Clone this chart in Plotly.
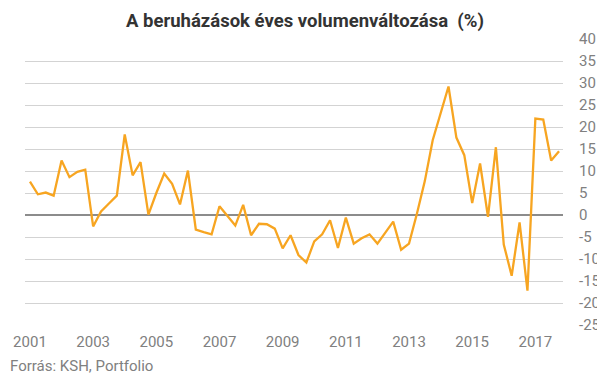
import plotly.graph_objects as go

years = list(range(2001, 2018))
quarters = [f"{y} Q{q}" for y in years for q in range(1, 5)]
values = [
    7.6, 4.7, 5.1, 4.4, 12.4, 8.6, 9.8, 10.3,
    -2.6, 0.8, 2.6, 4.4, 18.3, 9.0, 12.0, 0.1,
    5.0, 9.4, 7.1, 2.4, 10.1, -3.3, -3.9, -4.4,
    2.0, -0.2, -2.4, 2.3, -4.6, -2.0, -2.1, -3.1,
    -7.6, -4.6, -9.1, -10.8, -6.0, -4.4, -1.2, -7.5,
    -0.6, -6.5, -5.3, -4.4, -6.5, -4.0, -1.5, -7.9,
    -6.5, 0.3, 7.7, 17.0, 23.2, 29.2, 17.6, 13.6,
    2.7, 11.7, -0.4, 15.4, -6.7, -13.8, -1.7, -17.2,
    21.9, 21.7, 12.4, 14.5,
]
tick_years = [str(y) for y in years if y % 2 == 1]
tick_cats = [f"{y} Q1" for y in tick_years]
y_ticks = list(range(-25, 41, 5))
y_ticktext = [str(v) for v in y_ticks]  # ASCII hyphen, as in the original

title_text = "A beruházások éves volumenváltozása  (%)"
source_text = "Forrás: KSH, Portfolio"

# page body has an 8px margin, so the figure is sized/offset to compensate
W, H = 597, 370
L, T, PW, PH = 17, 31, 538, 286

fig = go.Figure()
fig.add_trace(go.Scatter(
    x=quarters, y=values, mode="lines",
    line=dict(color="#F7A521", width=2.3),
    hoverinfo="x+y",
))

fig.update_layout(
    width=W, height=H,
    margin=dict(l=L, r=W - L - PW, t=T, b=H - T - PH, autoexpand=False),
    paper_bgcolor="white", plot_bgcolor="white",
    showlegend=False,
    font=dict(family="Roboto, sans-serif", color="#808080", size=14),
    title=dict(text=f"<b>{title_text}</b>", x=0.4975, xanchor="center",
               y=1 - 13 / H, yanchor="middle",
               font=dict(family="Roboto, sans-serif", size=18.5, color="#333333")),
    xaxis=dict(
        type="category", categoryorder="array", categoryarray=quarters,
        range=[-0.63, 67.5],
        tickmode="array", tickvals=tick_cats, ticktext=tick_years,
        showgrid=False, zeroline=False, showline=False, ticks="",
        tickfont=dict(size=15, color="#808080"),
        ticklabelstandoff=6,
    ),
    yaxis=dict(
        side="right", range=[-25, 40],
        tickmode="array", tickvals=y_ticks, ticktext=y_ticktext,
        showgrid=True, gridcolor="#D3D3D3", gridwidth=1,
        zeroline=True, zerolinecolor="#8C8C8C", zerolinewidth=1.5,
        showline=False, ticks="",
        tickfont=dict(size=15, color="#808080"),
        ticklabelstandoff=15,
    ),
    annotations=[dict(
        text=source_text, xref="paper", yref="paper",
        x=-L / PW, y=-41 / PH, xanchor="left", yanchor="middle",
        showarrow=False, font=dict(size=15, color="#808080"),
    )],
)

fig.write_html("out.html")
